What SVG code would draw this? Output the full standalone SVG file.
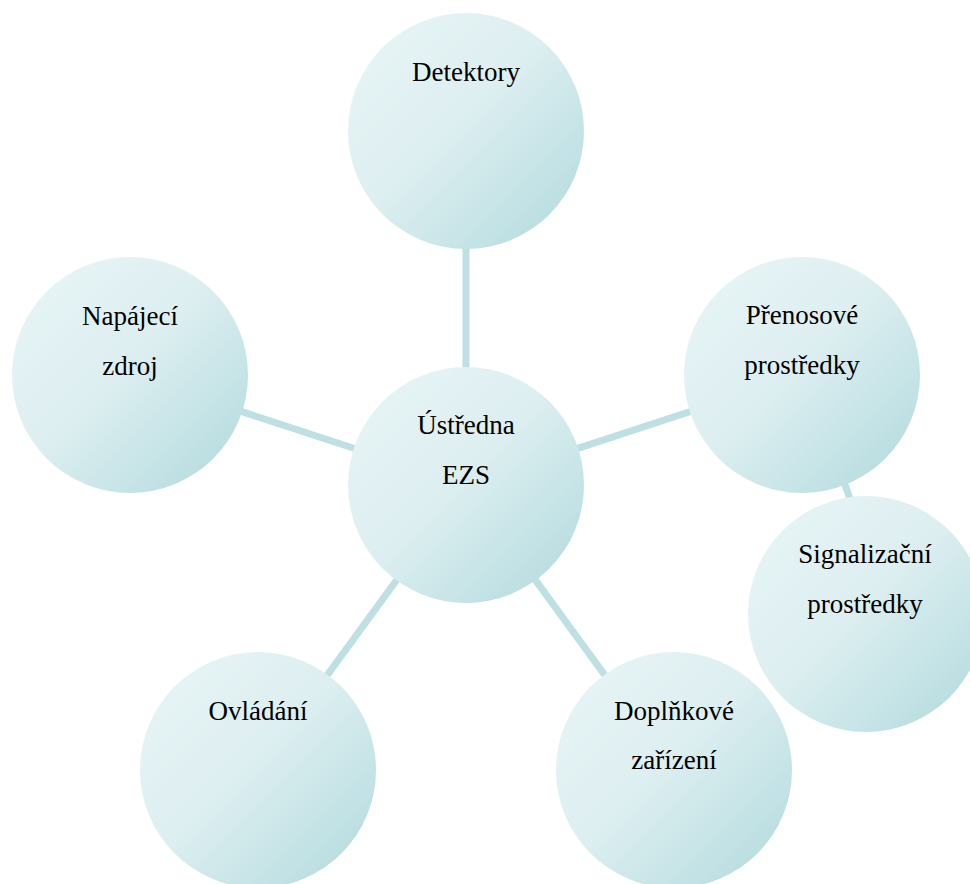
<svg xmlns="http://www.w3.org/2000/svg" width="970" height="884" viewBox="0 0 970 884">
  <defs>
    <!-- soft teal fill, lighter at the top-left, darker towards the bottom-right -->
    <linearGradient id="bubble" x1="0" y1="0" x2="1" y2="1">
      <stop offset="0" stop-color="#e8f5f6"/>
      <stop offset="0.45" stop-color="#deeff1"/>
      <stop offset="0.85" stop-color="#bcdfe2"/>
      <stop offset="1" stop-color="#b8dde1"/>
    </linearGradient>
  </defs>
  <style>
    .bubble { fill: url(#bubble); }
    .link { stroke: #bfe0e3; stroke-width: 7; fill: none; }
    text { font-family: "Liberation Serif", "Times New Roman", "DejaVu Serif", serif; font-size: 27px; fill: #000; text-anchor: middle; }
  </style>
  <rect width="970" height="884" fill="#ffffff"/>

  <g id="connectors">
    <line class="link" x1="466" y1="485" x2="466" y2="131"/>
    <line class="link" x1="466" y1="485" x2="130" y2="375"/>
    <line class="link" x1="466" y1="485" x2="802" y2="375"/>
    <line class="link" x1="466" y1="485" x2="258" y2="770"/>
    <line class="link" x1="466" y1="485" x2="674" y2="770"/>
    <line class="link" x1="840" y1="470" x2="852" y2="505"/>
  </g>

  <g id="detektory">
    <circle class="bubble" cx="466" cy="131" r="118"/>
    <text x="466" y="81">Detektory</text>
  </g>

  <g id="napajeci-zdroj">
    <circle class="bubble" cx="130" cy="375" r="118"/>
    <text x="130" y="325">Napájecí</text>
    <text x="130" y="375">zdroj</text>
  </g>

  <g id="prenosove-prostredky">
    <circle class="bubble" cx="802" cy="375" r="118"/>
    <text x="802" y="324">Přenosové</text>
    <text x="802" y="374">prostředky</text>
  </g>

  <g id="signalizacni-prostredky">
    <circle class="bubble" cx="866" cy="614" r="118"/>
    <text x="865" y="563">Signalizační</text>
    <text x="865" y="613">prostředky</text>
  </g>

  <g id="ustredna-ezs">
    <circle class="bubble" cx="466" cy="485" r="118"/>
    <text x="466" y="434">Ústředna</text>
    <text x="466" y="484">EZS</text>
  </g>

  <g id="ovladani">
    <circle class="bubble" cx="258" cy="770" r="118"/>
    <text x="258" y="720">Ovládání</text>
  </g>

  <g id="doplnkove-zarizeni">
    <circle class="bubble" cx="674" cy="770" r="118"/>
    <text x="674" y="720">Doplňkové</text>
    <text x="674" y="769">zařízení</text>
  </g>
</svg>
